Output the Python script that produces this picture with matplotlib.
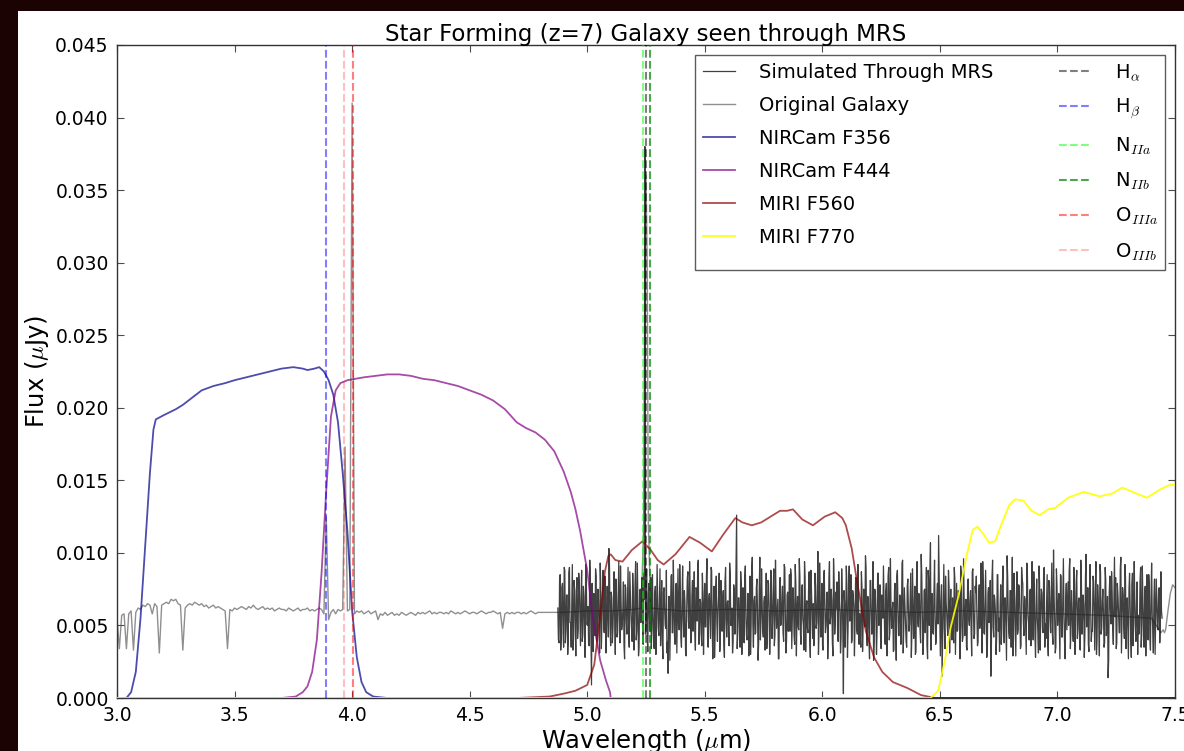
import numpy as np
import matplotlib
matplotlib.use('Agg')
import matplotlib.pyplot as plt
from matplotlib.patches import Rectangle

plt.rcParams['mathtext.fontset'] = 'cm'
plt.rcParams['font.family'] = ['DejaVu Sans']

# Original galaxy spectrum (flux in 1e-4 uJy), 3.00-4.88 um every 0.01 um,
# then a few nodes that sit under the MRS spectrum
orig_flux_blue = [55, 34, 57, 58, 34, 58, 60, 33, 59, 62,
                  61, 64, 63, 65, 64, 58, 65, 63, 31, 64,
                  65, 66, 65, 68, 67, 68, 65, 64, 33, 62,
                  64, 65, 64, 66, 65, 64, 65, 63, 64, 62,
                  63, 64, 62, 63, 62, 61, 60, 34, 61, 60,
                  62, 61, 62, 63, 62, 61, 63, 62, 64, 62,
                  61, 62, 63, 61, 62, 61, 62, 60, 61, 62,
                  61, 61, 60, 62, 61, 60, 61, 62, 60, 61,
                  61, 62, 60, 61, 60, 61, 62, 61, 58, 125,
                  54, 59, 61, 58, 61, 60, 61, 173, 60, 61,
                  410, 58, 60, 59, 60, 58, 59, 60, 58, 59,
                  60, 54, 58, 57, 59, 57, 58, 59, 57, 58,
                  57, 59, 58, 57, 58, 59, 58, 57, 59, 58,
                  59, 58, 59, 60, 58, 59, 58, 59, 59, 58,
                  59, 58, 60, 59, 58, 59, 58, 59, 60, 59,
                  58, 59, 59, 58, 59, 60, 59, 58, 59, 59,
                  60, 59, 58, 59, 48, 58, 59, 58, 59, 58,
                  59, 59, 58, 59, 58, 59, 60, 59, 58, 59,
                  59, 59, 59, 59, 59, 59, 59, 59, 59]
orig_wl_red = [4.90, 5.00, 5.10, 5.20, 5.23, 5.24, 5.245, 5.25, 5.255, 5.26,
               5.27, 5.40, 5.60, 5.80, 6.00, 6.20, 6.40, 6.60, 6.80, 7.00,
               7.20, 7.40, 7.44, 7.45, 7.455, 7.46, 7.47, 7.48, 7.49, 7.50]
orig_flux_red = [59, 60, 60, 61, 62, 120, 300, 360, 300, 120,
                 62, 60, 61, 60, 61, 60, 59, 60, 59, 58,
                 57, 55, 45, 47, 45, 47, 60, 72, 78, 76]

# Spectrum simulated through MRS (1e-4 uJy), 4.875-7.445 um,
# even samples (a) and odd samples (b)
sim_flux_a = [62, 38, 85, 44, 79, 35, 88, 47, 71, 40, 90, 52, 66, 33, 81, 49, 74, 41, 86, 55,
              68, 39, 77, 46, 92, 51, 63, 36, 80, 9, 58, 72, 43, 84, 50, 67, 31, 76, 54, 88,
              45, 70, 57, 62, 103, 48, 73, 38, 65, 55, 82, 42, 69, 58, 91, 47, 61, 36, 78, 53,
              66, 44, 87, 57, 39, 71, 50, 94, 46, 63, 35, 75, 58, 49, 86, 380, 64, 41, 72, 55,
              83, 47, 60, 34, 77, 52, 68, 43, 89, 56, 40, 73, 61, 48, 31, 17, 70, 54, 85, 45,
              64, 37, 79, 58, 50, 92, 42, 67, 55, 74, 33, 61, 87, 48, 70, 39, 81, 57, 46, 76,
              53, 95, 44, 66, 36, 72, 59, 49, 84, 41, 68, 56, 90, 47, 63, 28, 75, 52, 61, 86,
              43, 71, 58, 37, 80, 54, 66, 46, 93, 50, 62, 39, 74, 57, 126, 45, 69, 35, 78, 60,
              48, 83, 55, 40, 72, 63, 30, 88, 51, 67, 44, 76, 59, 38, 97, 53, 65, 42, 70, 56,
              34, 81, 61, 47, 74, 52, 89, 43, 66, 58, 27, 78, 50, 69, 45, 92, 57, 39, 73, 62,
              46, 85, 54, 68, 37, 79, 60, 49, 96, 44, 71, 55, 33, 82, 63, 48, 75, 41, 88, 57,
              65, 39, 77, 52, 101, 46, 70, 58, 36, 84, 61, 50, 73, 43, 94, 56, 67, 29, 80, 53,
              62, 45, 87, 59, 41, 72, 3, 66, 55, 78, 48, 91, 57, 38, 74, 63, 50, 83, 44, 69,
              58, 35, 76, 51, 64, 98, 47, 70, 40, 81, 60, 53, 26, 75, 57, 46, 86, 62, 42, 71,
              55, 67, 37, 79, 52, 90, 45, 63, 58, 32, 74, 49, 84, 61, 43, 70, 56, 95, 48, 65,
              39, 77, 60, 51, 86, 44, 68, 57, 30, 82, 53, 72, 47, 99, 59, 41, 75, 62, 36, 88,
              50, 107, 64, 45, 73, 56, 40, 79, 112, 55, 66, 15, 71, 48, 84, 58, 43, 77, 61, 52,
              69, 38, 82, 57, 46, 74, 63, 91, 50, 42, 70, 59, 35, 80, 54, 67, 47, 87, 60, 44,
              73, 56, 39, 78, 62, 51, 94, 45, 68, 57, 33, 76, 60, 15, 83, 49, 71, 58, 42, 85,
              55, 64, 37, 80, 52, 69, 46, 98, 58, 41, 74, 62, 29, 86, 50, 67, 44, 78, 59, 36,
              82, 53, 70, 47, 93, 57, 40, 75, 61, 49, 87, 43, 66, 55, 31, 79, 58, 72, 45, 90,
              51, 63, 38, 81, 56, 68, 44, 102, 54, 35, 77, 60, 48, 85, 42, 71, 57, 27, 79, 65,
              50, 96, 45, 62, 39, 74, 58, 88, 47, 69, 33, 82, 55, 64, 43, 99, 52, 37, 76, 61,
              46, 84, 57, 70, 30, 78, 53, 92, 44, 66, 59, 38, 81, 50, 14, 73, 62, 87, 48, 68,
              56, 34, 79, 60, 45, 97, 52, 71, 41, 83, 58, 47, 75, 63, 28, 86, 54, 68, 39, 80,
              57, 49, 90, 44, 66, 35, 77, 61, 52, 85, 42, 70, 58, 31, 82, 55, 64, 47, 76, 50,
              60]
sim_flux_b = [40, 82, 33, 76, 45, 90, 38, 71, 30, 86, 52, 35, 92, 41, 74, 29, 83, 47, 78, 36,
              88, 43, 70, 28, 85, 50, 37, 95, 44, 79, 32, 68, 89, 39, 75, 46, 93, 34, 72, 49,
              84, 31, 77, 42, 91, 36, 69, 48, 87, 30, 73, 45, 94, 38, 66, 51, 80, 27, 76, 44,
              90, 35, 71, 47, 86, 33, 78, 40, 93, 29, 74, 52, 83, 37, 68, 44, 89, 32, 79, 46,
              34, 85, 41, 72, 30, 92, 48, 67, 36, 81, 27, 76, 50, 88, 39, 70, 26, 84, 45, 95,
              43, 78, 31, 89, 47, 73, 35, 91, 42, 66, 29, 82, 53, 94, 38, 71, 46, 87, 33, 75,
              92, 37, 68, 44, 86, 30, 79, 49, 96, 35, 72, 41, 88, 27, 77, 45, 84, 39, 70, 32,
              81, 46, 74, 28, 90, 42, 67, 36, 85, 51, 31, 78, 44, 93, 34, 69, 48, 87, 30, 76,
              38, 91, 43, 72, 29, 84, 50, 97, 35, 70, 45, 82, 26, 75, 40, 89, 47, 66, 33, 86,
              44, 79, 30, 88, 41, 73, 36, 95, 48, 68, 27, 83, 52, 77, 39, 90, 31, 71, 46, 85,
              89, 34, 76, 43, 92, 29, 70, 47, 84, 37, 78, 50, 94, 32, 67, 45, 87, 28, 74, 41,
              36, 86, 48, 71, 30, 93, 42, 79, 33, 88, 45, 69, 27, 82, 51, 75, 38, 96, 44, 73,
              80, 39, 67, 31, 89, 46, 74, 35, 91, 28, 77, 53, 85, 40, 70, 29, 83, 47, 92, 37,
              42, 87, 32, 75, 49, 90, 36, 68, 27, 81, 44, 94, 38, 72, 30, 86, 50, 78, 34, 69,
              91, 45, 73, 29, 84, 40, 96, 48, 66, 33, 79, 26, 88, 43, 71, 37, 93, 31, 76, 52,
              35, 82, 46, 70, 28, 89, 41, 77, 32, 94, 49, 67, 38, 85, 30, 74, 45, 90, 27, 80,
              87, 33, 72, 44, 95, 37, 69, 51, 83, 29, 78, 42, 92, 34, 66, 48, 88, 31, 75, 40,
              45, 90, 30, 79, 47, 71, 27, 86, 39, 96, 43, 68, 33, 82, 50, 74, 29, 89, 41, 77,
              84, 36, 70, 48, 93, 31, 76, 44, 88, 28, 72, 52, 81, 37, 95, 42, 67, 30, 85, 46,
              32, 78, 49, 91, 38, 69, 26, 83, 45, 74, 35, 97, 41, 70, 29, 87, 47, 76, 34, 90,
              79, 43, 68, 30, 86, 52, 73, 36, 94, 40, 67, 28, 82, 46, 91, 33, 75, 48, 88, 35,
              41, 85, 29, 77, 45, 93, 37, 70, 31, 89, 50, 72, 27, 84, 42, 96, 38, 68, 47, 80,
              88, 34, 74, 46, 90, 30, 79, 41, 67, 36, 95, 44, 71, 28, 83, 49, 76, 32, 92, 39,
              46, 81, 33, 94, 40, 68, 29, 87, 48, 75, 35, 90, 43, 70, 26, 84, 51, 73, 37, 97,
              83, 38, 71, 45, 89, 31, 76, 50, 92, 34, 69, 27, 86, 42, 78, 36, 94, 47, 67, 30,
              44, 80, 35, 91, 48, 72, 29, 85, 40, 77, 33, 93, 46, 69, 30, 82, 49, 75, 38, 87,
              55]

# filter throughput curves (scaled to flux units)
f356_wl = [3.00, 3.04, 3.06, 3.08, 3.10, 3.12, 3.14, 3.155, 3.165, 3.20, 3.25, 3.28, 3.32,
           3.36, 3.41, 3.46, 3.50, 3.55, 3.60, 3.65, 3.70, 3.75, 3.79, 3.81, 3.84, 3.86,
           3.88, 3.90, 3.92, 3.94, 3.96, 3.98, 4.00, 4.02, 4.04, 4.06, 4.09, 4.15, 7.50]
f356 = [0, 0, 0.0004, 0.0018, 0.0055, 0.0105, 0.0155, 0.0185, 0.0192, 0.0195, 0.0199,
        0.0202, 0.0207, 0.0212, 0.0215, 0.0217, 0.0219, 0.0221, 0.0223, 0.0225, 0.0227,
        0.0228, 0.0227, 0.0226, 0.0227, 0.0228, 0.0225, 0.0219, 0.0209, 0.0190, 0.0155,
        0.0115, 0.0060, 0.0028, 0.0011, 0.0004, 0.0001, 0, 0]

f444_wl = [3.00, 3.70, 3.76, 3.79, 3.81, 3.83, 3.85, 3.87, 3.89, 3.91, 3.93, 3.95, 3.98,
           4.05, 4.10, 4.15, 4.20, 4.25, 4.30, 4.35, 4.40, 4.45, 4.50, 4.55, 4.60, 4.65,
           4.70, 4.74, 4.78, 4.82, 4.86, 4.90, 4.93, 4.95, 4.97, 5.00, 5.025, 5.055, 5.08,
           5.097, 5.10, 7.50]
f444 = [0, 0, 0.0001, 0.0004, 0.0008, 0.0018, 0.0040, 0.0086, 0.0143, 0.0194, 0.0212,
        0.0217, 0.0219, 0.0221, 0.0222, 0.0223, 0.0223, 0.0222, 0.0220, 0.0219, 0.0217,
        0.0215, 0.0212, 0.0209, 0.0205, 0.0199, 0.0190, 0.0186, 0.0183, 0.0178, 0.0170,
        0.0156, 0.0142, 0.0130, 0.0115, 0.0088, 0.0054, 0.0026, 0.0012, 0.0004, 0, 0]

f560_wl = [3.00, 4.70, 4.84, 4.90, 4.95, 5.00, 5.03, 5.055, 5.075, 5.09, 5.10, 5.12, 5.15,
           5.19, 5.235, 5.27, 5.30, 5.325, 5.375, 5.435, 5.48, 5.53, 5.58, 5.63, 5.66, 5.70,
           5.74, 5.78, 5.82, 5.85, 5.875, 5.915, 5.96, 6.01, 6.055, 6.085, 6.10, 6.125, 6.15,
           6.185, 6.22, 6.255, 6.30, 6.36, 6.42, 6.48, 7.50]
f560 = [0, 0, 0.0001, 0.0003, 0.0005, 0.0009, 0.0023, 0.0057, 0.0087, 0.0098, 0.0099,
        0.0095, 0.0094, 0.0102, 0.0108, 0.0102, 0.0095, 0.0092, 0.0099, 0.0111, 0.0107,
        0.0101, 0.0113, 0.0124, 0.0121, 0.0119, 0.0121, 0.0125, 0.0129, 0.0129, 0.0130,
        0.0123, 0.0119, 0.0125, 0.0128, 0.0124, 0.0119, 0.0103, 0.0078, 0.0046, 0.0028,
        0.0018, 0.0011, 0.0007, 0.0002, 0, 0]

f770_wl = [3.00, 6.46, 6.493, 6.52, 6.545, 6.58, 6.615, 6.64, 6.66, 6.685, 6.71, 6.735,
           6.76, 6.795, 6.82, 6.855, 6.89, 6.925, 6.96, 6.99, 7.045, 7.11, 7.18, 7.235,
           7.275, 7.32, 7.38, 7.44, 7.48, 7.50]
f770 = [0, 0, 0.0005, 0.0025, 0.0048, 0.0071, 0.0099, 0.0116, 0.0118, 0.0113, 0.0107,
        0.0108, 0.0119, 0.0133, 0.0137, 0.0136, 0.0129, 0.0126, 0.0130, 0.0131, 0.0138,
        0.0142, 0.0139, 0.0141, 0.0145, 0.0142, 0.0138, 0.0144, 0.0147, 0.0147]

# emission lines at z=7
line_names = [r'H$_\alpha$', r'H$_\beta$', r'N$_{IIa}$', r'N$_{IIb}$', r'O$_{IIIa}$', r'O$_{IIIb}$']
line_wl = [5.2504, 3.8888, 5.2384, 5.2664, 4.0056, 3.9672]
line_colors = [(0, 0, 0, 0.5), (0, 0, 1, 0.5), (0, 1, 0, 0.5), (0, 0.5, 0, 0.7),
               (1, 0, 0, 0.5), (1, 0, 0, 0.25)]

orig_wl = np.concatenate([np.round(np.arange(3.0, 4.885, 0.01), 2), orig_wl_red])
orig_flux = np.array(orig_flux_blue + orig_flux_red) * 1e-4

n = min(len(sim_flux_a), len(sim_flux_b))
sim = np.column_stack([sim_flux_a[:n], sim_flux_b[:n]]).ravel() * 1e-4
sim_wl = np.linspace(4.875, 7.445, len(sim))

fig = plt.figure(figsize=(11.84, 7.51), dpi=100, facecolor='#1c0303')
# white figure panel on the dark background
fig.add_artist(Rectangle((18 / 1184, 0), 1, 1 - 10.5 / 751, transform=fig.transFigure,
                         facecolor='white', edgecolor='none', zorder=-5))
ax = fig.add_axes([117 / 1184, 1 - 698 / 751, 1058 / 1184, 653 / 751], zorder=1)
ax.set_facecolor('white')

ax.plot(sim_wl, sim, color='#1e1e1e', alpha=0.85, lw=0.9, label='Simulated Through MRS', zorder=2)
ax.plot(orig_wl, orig_flux, color='0.45', alpha=0.8, lw=1, label='Original Galaxy', zorder=1)
ax.plot(f356_wl, f356, color='darkblue', alpha=0.7, lw=1.3, label='NIRCam F356', zorder=3)
ax.plot(f444_wl, f444, color='purple', alpha=0.7, lw=1.3, label='NIRCam F444', zorder=3)
ax.plot(f560_wl, f560, color='darkred', alpha=0.7, lw=1.3, label='MIRI F560', zorder=3)
ax.plot(f770_wl, f770, color='yellow', alpha=0.9, lw=1.3, label='MIRI F770', zorder=3)
for name, wl, c in zip(line_names, line_wl, line_colors):
    ax.axvline(wl, color=c, ls='--', lw=1.5, label=name, zorder=4)

ax.set_xlim(3.0, 7.5)
ax.set_ylim(0, 0.045)
ax.set_xticks(np.arange(3.0, 7.51, 0.5))
ax.set_yticks(np.arange(0, 0.0451, 0.005))
ax.xaxis.set_major_formatter(matplotlib.ticker.FormatStrFormatter('%.1f'))
ax.yaxis.set_major_formatter(matplotlib.ticker.FormatStrFormatter('%.3f'))
ax.tick_params(direction='in', top=True, right=True, length=5, width=0.8,
               labelsize=13.5, pad=6, color='0.3')
for sp in ax.spines.values():
    sp.set_color('0.2')
    sp.set_linewidth(1)

ax.set_title('Star Forming (z=7) Galaxy seen through MRS', fontsize=16.5, pad=3)
ax.set_xlabel(r'Wavelength ($\mu$m)', fontsize=17.5, labelpad=1)
ax.set_ylabel(r'Flux ($\mu$Jy)', fontsize=17.5, labelpad=3)

leg = ax.legend(loc='upper right', ncol=2, fontsize=14, frameon=True, fancybox=False,
                handlelength=1.65, handletextpad=1.2, columnspacing=3.4,
                labelspacing=0.72, borderaxespad=0.5)
leg.get_frame().set_edgecolor('0.2')
leg.get_frame().set_linewidth(1)

fig.savefig('out.png', dpi=100, facecolor=fig.get_facecolor())
